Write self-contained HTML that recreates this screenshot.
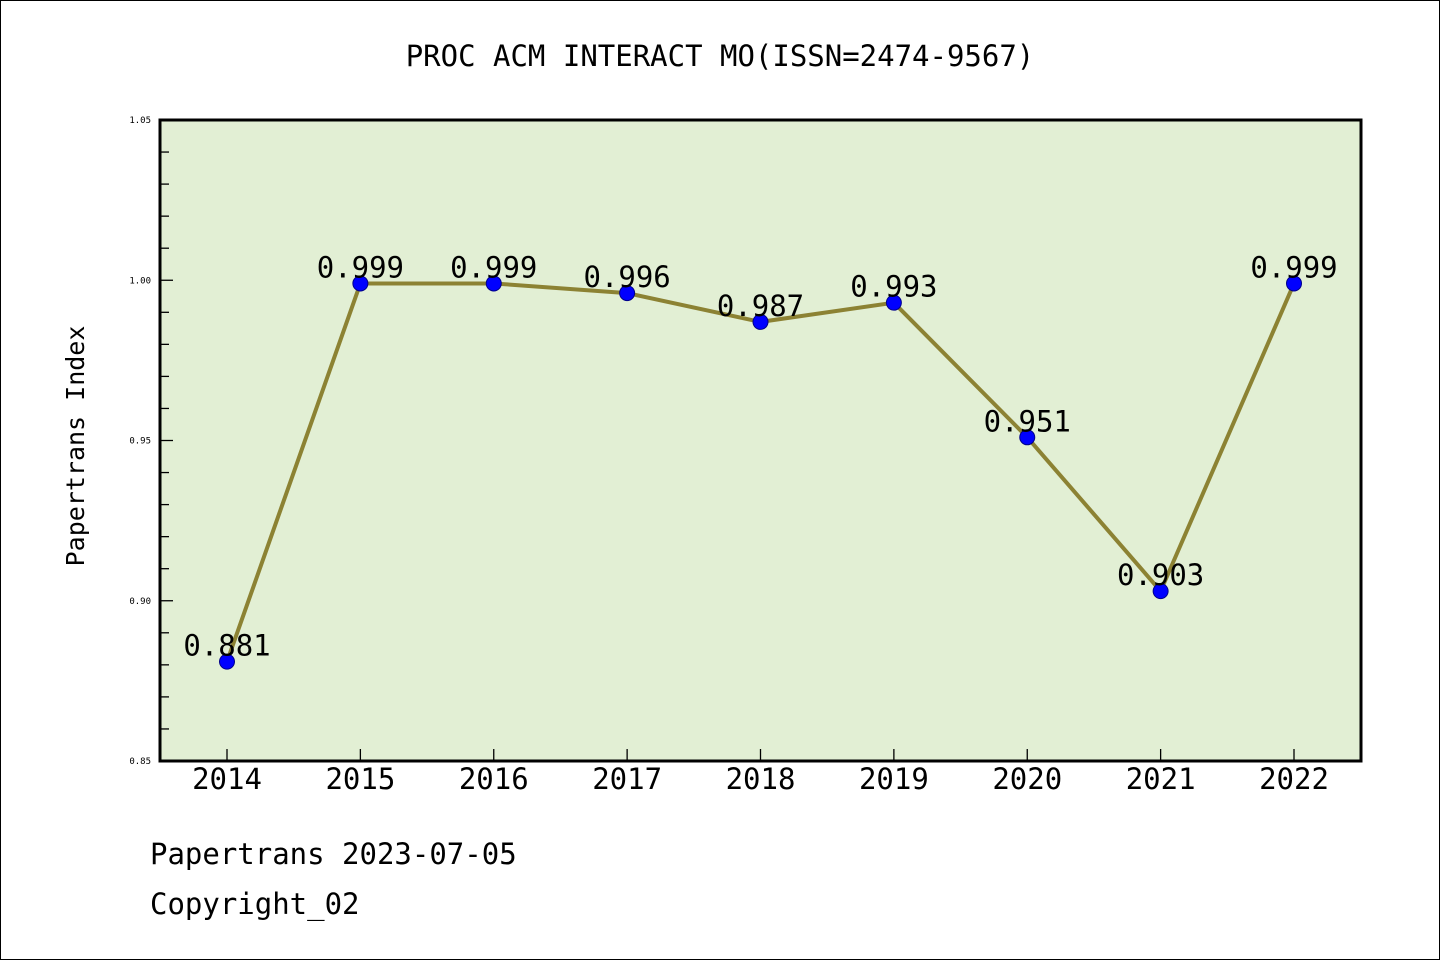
<!DOCTYPE html>
<html><head><meta charset="utf-8"><style>
html,body{margin:0;padding:0;background:#fff}
svg{display:block}
text{font-family:"WenQuanYi Zen Hei","DejaVu Sans Mono",monospace}
</style></head><body>
<svg id="chart" width="1440" height="960" xmlns="http://www.w3.org/2000/svg">
<rect x="0.5" y="0.5" width="1439" height="959" fill="#fff" stroke="#000" stroke-width="1"/>
<text x="720" y="66" text-anchor="middle" font-size="29">PROC ACM INTERACT MO(ISSN=2474-9567)</text>
<rect x="160" y="120" width="1201" height="641" fill="#e2efd4"/>
<g id="yaxis"></g>
<g id="xaxis"></g>
<g id="series"></g>
<rect x="160" y="120" width="1201" height="641" fill="none" stroke="#000" stroke-width="3"/>
<text transform="translate(84,446) rotate(-90)" text-anchor="middle" font-size="25">Papertrans Index</text>
<text x="150" y="864" font-size="29">Papertrans 2023-07-05</text>
<text x="150" y="914" font-size="29">Copyright_02</text>
</svg>
<script>
const years = ["2014","2015","2016","2017","2018","2019","2020","2021","2022"];
const values = [0.881,0.999,0.999,0.996,0.987,0.993,0.951,0.903,0.999];
const yTicks = [0.85,0.90,0.95,1.00,1.05];
const yTickLabels = ["0.85","0.90","0.95","1.00","1.05"];
const NS="http://www.w3.org/2000/svg";
const yMin=0.85,yMax=1.05,yTop=120,yBot=761;
function ys(v){return yBot-(v-yMin)/(yMax-yMin)*(yBot-yTop);}
function xs(i){return 227+i*(1294-227)/(years.length-1);}
function mk(t,a,p){const e=document.createElementNS(NS,t);for(const k in a)e.setAttribute(k,a[k]);p.appendChild(e);return e;}
const ya=document.getElementById('yaxis'),xa=document.getElementById('xaxis'),se=document.getElementById('series');
for(let v=0;v<=20;v++){const val=yMin+v*0.01;const major=v%5===0;
 const l=mk('line',{x1:160,x2:major?173:169,y1:ys(val),y2:ys(val),stroke:'#000','stroke-width':1.3},ya);
 
 }
yTicks.forEach((v,i)=>{const t=mk('text',{x:151,y:ys(v)+3,'text-anchor':'end','font-size':9,'font-family':'DejaVu Sans'},ya);t.textContent=yTickLabels[i];
 
 });
years.forEach((y,i)=>{const l=mk('line',{x1:xs(i),x2:xs(i),y1:761,y2:749,stroke:'#000','stroke-width':1.3},xa);
 
 
 const t=mk('text',{x:xs(i),y:789,'text-anchor':'middle','font-size':29},xa);t.textContent=y;
 
 });
const pts=values.map((v,i)=>xs(i)+','+ys(v)).join(' ');
const pl=mk('polyline',{points:pts,fill:'none',stroke:'#8c8233','stroke-width':4,'stroke-linejoin':'round'},se);


values.forEach((v,i)=>{const c=mk('circle',{cx:xs(i),cy:ys(v),r:7.5,fill:'#0000ff',stroke:'#00008b','stroke-width':1},se);
 
 
 const t=mk('text',{x:xs(i),y:ys(v)-6,'text-anchor':'middle','font-size':29},se);t.textContent=v.toFixed(3);
 
 });
</script>
</body></html>
